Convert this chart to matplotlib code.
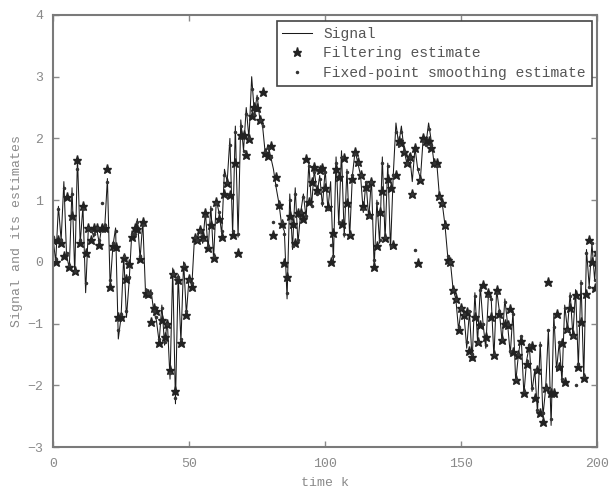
import matplotlib
matplotlib.use('Agg')
import matplotlib.pyplot as plt
import numpy as np

# values, one per time step k = 0..200
signal = [
    0.4, 0.0, 0.9, 0.35, 1.3, 0.1, -0.1, 1.2, -0.2, 1.7,
    0.3, 0.9, -0.5, 0.55, 0.55, 0.4, 0.55, 0.3, 0.6, 0.55,
    1.35, -0.4, 0.25, 0.55, -1.25, -0.9, 0.1, -0.9, -0.3, 0.5,
    0.4, 0.7, 0.05, 0.65, -0.5, -0.55, -0.45, -0.8, -0.95, -1.3,
    -0.7, -1.35, -0.95, -1.9, -0.1, -2.3, -0.2, -1.3, 0.0, -0.85,
    -0.25, -0.4, 0.4, 0.35, 0.55, 0.3, 0.8, 0.2, 0.9, 0.05,
    1.0, 0.8, 0.45, 1.5, 1.3, 2.0, 0.45, 2.2, 0.4, 2.3,
    1.8, 2.5, 2.0, 3.0, 2.4, 2.7, 2.3, 2.2, 1.75, 1.9,
    1.7, 1.5, 1.2, 0.95, 0.6, 0.5, -0.6, 1.1, 0.2, 1.2,
    0.3, 0.8, 1.1, 0.7, 1.6, 0.9, 1.5, 1.1, 1.4, 0.9,
    1.5, 0.85, 1.3, 0.0, 1.7, 0.6, 1.8, 0.4, 1.5, 0.4,
    1.4, 1.8, 1.6, 1.4, 0.8, 1.3, 0.7, 1.35, -0.1, 1.0,
    0.3, 1.7, 0.35, 1.6, 0.2, 1.4, 2.25, 1.9, 2.2, 1.8,
    1.6, 1.75, 1.3, 1.85, 1.5, 1.35, 2.0, 1.9, 2.25, 1.95,
    1.6, 1.6, 1.05, 0.95, 0.6, 0.1, 0.0, -0.45, -0.6, -1.1,
    -0.75, -0.85, -1.4, -0.8, -1.6, -0.5, -1.3, -0.4, -1.0, -1.4,
    -0.5, -0.6, -1.55, -0.45, -0.8, -1.3, -0.6, -1.0, -1.5, -0.8,
    -1.95, -1.5, -1.2, -2.15, -1.6, -1.35, -2.1, -1.75, -2.45, -1.3,
    -2.5, -2.05, -1.1, -2.65, -0.85, -1.75, -1.3, -1.95, -0.7, -1.1,
    -0.5, -1.2, -0.45, -1.7, -0.3, -1.9, 0.2, -0.4, 0.3, -0.3,
    0.35,
]

filtering = [
    0.35, 0.0, 0.35, 0.3, 0.1, 1.05, -0.08, 0.75, -0.15, 1.65,
    0.3, 0.9, 0.15, 0.55, 0.35, 0.55, 0.55, 0.27, 0.55, 0.55,
    1.5, -0.4, 0.25, 0.24, -0.9, -0.89, 0.06, -0.28, -0.03, 0.41,
    0.55, 0.54, 0.04, 0.65, -0.5, -0.52, -0.97, -0.75, -0.8, -1.32,
    -0.94, -1.21, -1.0, -1.75, -0.19, -2.1, -0.3, -1.32, -0.08, -0.86,
    -0.27, -0.41, 0.38, 0.35, 0.52, 0.4, 0.79, 0.22, 0.6, 0.06,
    0.97, 0.7, 0.41, 1.1, 1.27, 1.08, 0.43, 1.6, 0.14, 2.06,
    2.05, 1.73, 1.99, 2.36, 2.51, 2.5, 2.3, 2.76, 1.76, 1.71,
    1.87, 0.43, 1.38, 0.92, 0.62, -0.02, -0.24, 0.75, 0.62, 0.31,
    0.79, 0.79, 0.7, 1.66, 0.97, 1.3, 1.54, 1.16, 1.49, 1.52,
    1.2, 0.89, 0.0, 0.46, 1.5, 1.38, 0.62, 1.68, 0.95, 0.43,
    1.35, 1.78, 1.62, 1.41, 0.9, 1.22, 0.76, 1.3, -0.08, 0.25,
    0.81, 1.14, 0.38, 1.35, 1.19, 0.27, 1.41, 1.95, 1.92, 1.78,
    1.6, 1.7, 1.1, 1.84, -0.02, 1.33, 2.0, 1.95, 1.95, 1.85,
    1.6, 1.6, 1.06, 0.95, 0.6, 0.03, -0.01, -0.46, -0.61, -1.1,
    -0.75, -0.86, -0.81, -1.45, -1.54, -0.9, -1.3, -1.02, -0.38, -1.21,
    -0.51, -0.9, -1.51, -0.46, -0.84, -1.27, -1.0, -1.02, -0.77, -1.46,
    -1.92, -1.51, -1.29, -2.13, -1.65, -1.4, -1.36, -2.21, -1.75, -2.45,
    -2.6, -2.05, -0.32, -2.13, -2.13, -0.84, -1.7, -1.32, -1.94, -1.09,
    -0.75, -1.19, -0.54, -1.7, -0.97, -1.89, -0.52, 0.36, -0.01, -0.43,
    0.16,
]

smoothing = [
    0.4, 0.05, 0.85, 0.35, 1.2, 0.15, -0.05, 1.1, -0.15, 1.5,
    0.35, 0.85, -0.35, 0.55, 0.5, 0.45, 0.55, 0.35, 0.95, 0.6,
    1.3, -0.3, 0.3, 0.5, -1.1, -0.85, 0.1, -0.8, -0.25, 0.45,
    0.45, 0.65, 0.1, 0.6, -0.45, -0.5, -0.5, -0.8, -0.9, -1.25,
    -0.75, -1.3, -1.0, -1.8, -0.2, -2.2, -0.25, -1.25, -0.05, -0.8,
    -0.3, -0.35, 0.4, 0.35, 0.5, 0.35, 0.75, 0.25, 0.85, 0.1,
    0.95, 0.8, 0.5, 1.4, 1.3, 1.9, 0.5, 2.1, 0.45, 2.2,
    1.8, 2.4, 2.0, 2.8, 2.4, 2.65, 2.3, 2.2, 1.8, 1.85,
    1.7, 0.65, 1.25, 0.95, 0.65, 0.45, -0.5, 1.0, 0.25, 1.1,
    0.35, 0.8, 1.05, 0.75, 1.55, 0.9, 1.45, 1.1, 1.35, 0.95,
    1.45, 0.85, 0.27, 0.1, 1.6, 0.65, 1.7, 0.45, 1.45, 0.45,
    1.4, 1.75, 1.6, 1.4, 0.85, 1.3, 0.75, 1.3, 0.03, 0.95,
    0.35, 1.6, 0.4, 1.55, 0.25, 1.4, 2.1, 1.9, 2.1, 1.8,
    1.6, 1.7, 1.1, 0.19, 1.5, 1.35, 1.95, 1.9, 2.15, 1.9,
    1.6, 1.55, 1.05, 0.95, 0.6, 0.1, 0.0, -0.45, -0.6, -1.05,
    -0.75, -0.85, -1.3, -0.8, -1.5, -0.55, -1.3, -0.45, -1.0, -1.35,
    -0.55, -0.6, -1.5, -0.5, -0.8, -1.25, -0.65, -1.0, -1.45, -0.85,
    -1.9, -1.5, -1.2, -2.1, -1.6, -1.35, -2.05, -1.75, -2.4, -1.35,
    -2.45, -2.05, -1.1, -2.55, -1.05, -1.7, -1.3, -1.9, -0.75, -1.1,
    -0.55, -1.2, -2.0, -1.65, -0.35, -1.85, 0.15, -0.4, 0.3, -0.3,
    0.3,
]

x_ticks = [0, 50, 100, 150, 200]
y_ticks = [-3, -2, -1, 0, 1, 2, 3, 4]

MONO = ['Liberation Mono', 'DejaVu Sans Mono']
GRAY = '#8a8a8a'


def main():
    k = np.arange(len(signal))

    fig = plt.figure(figsize=(6.11, 4.91), dpi=100)
    ax = fig.add_axes([0.0867, 0.0896, 0.891, 0.8799])

    ax.plot(k, signal, color='#1a1a1a', linewidth=0.75, label='Signal')
    ax.plot(k, filtering, linestyle='none', marker='*', markersize=6.5,
            color='#222222', label='Filtering estimate')
    ax.plot(k, smoothing, linestyle='none', marker='.', markersize=3,
            color='#333333', label='Fixed-point smoothing estimate')

    ax.set_xlim(0, 200)
    ax.set_ylim(-3, 4)
    ax.set_xticks(x_ticks)
    ax.set_yticks(y_ticks)
    ax.tick_params(direction='in', top=True, right=True, length=4,
                   width=1, color=GRAY, labelcolor=GRAY, labelsize=9.5)
    ax.tick_params(axis='x', pad=8)
    ax.tick_params(axis='y', pad=7)
    for lbl in ax.get_xticklabels() + ax.get_yticklabels():
        lbl.set_family(MONO)
    for sp in ax.spines.values():
        sp.set_color('#7a7a7a')
        sp.set_linewidth(1.5)

    ax.set_xlabel('time k', family=MONO, fontsize=9.5, color=GRAY, labelpad=5)
    ax.set_ylabel('Signal and its estimates', family=MONO, fontsize=9.5,
                  color=GRAY, labelpad=3)

    leg = ax.legend(loc='upper right', prop={'family': MONO, 'size': 10.5},
                    fancybox=False, framealpha=1, borderaxespad=0.4,
                    labelspacing=0.4, handlelength=2.0, borderpad=0.4)
    leg.get_frame().set_edgecolor('#444444')
    leg.get_frame().set_linewidth(1.2)
    for t in leg.get_texts():
        t.set_color('#555555')

    fig.savefig('out.png', dpi=100)
    plt.close(fig)


if __name__ == '__main__':
    main()
